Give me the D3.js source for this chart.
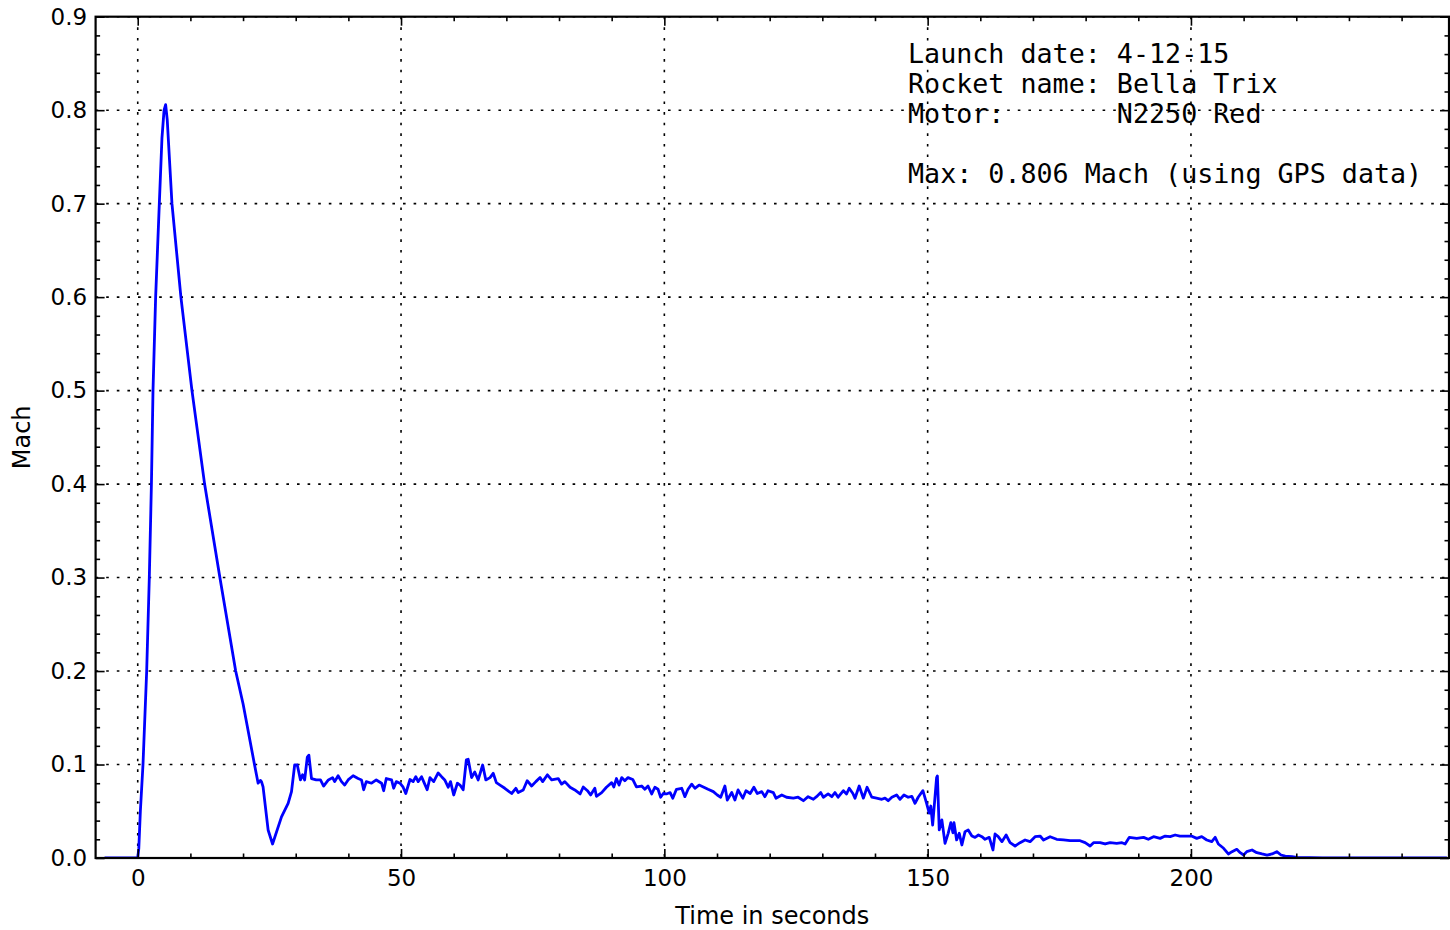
<!DOCTYPE html>
<html>
<head>
<meta charset="utf-8">
<script src="https://cdn.jsdelivr.net/npm/d3@7"></script>
<style>
  html, body { margin: 0; padding: 0; background: #ffffff; }
  svg { display: block; }
</style>
</head>
<body>
<svg id="chart" width="1450" height="930"></svg>
<script>
// ---------------- data ----------------
const timeSeconds = [
  -6.3, -4, -2, 0, 0.2, 0.5, 1.0, 1.7, 2.2, 2.6, 2.9, 3.4, 4.1, 4.6, 5.0, 5.3, 5.6,
  6.5, 8.2, 10.3, 12.7, 15.6, 18.6, 20.0, 22.0, 22.86, 23.3, 23.5, 23.8, 24.76, 25.6,
  27.3, 28.56, 29.2, 29.8, 30.3, 30.9, 31.3, 31.7, 32.2, 32.5, 33.0, 33.9, 34.7, 35.3,
  36.2, 37.0, 37.4, 38.05, 38.7, 39.3, 39.95, 40.9, 41.85, 42.5, 42.9, 43.4, 44.4,
  45.3, 46.3, 46.7, 47.2, 48.2, 48.6, 49.1, 49.8, 50.4, 50.9, 51.7, 52.3, 52.8,
  53.25, 53.9, 54.3, 54.96, 55.5, 56.2, 57.05, 57.7, 58.3, 58.95, 59.4, 60.0, 60.7,
  61.2, 61.8, 62.4, 62.75, 63.4, 64.0, 64.65, 65.5, 66.1, 66.9, 67.5, 68.1, 68.8,
  69.7, 71.0, 71.8, 72.25, 73.2, 73.95, 74.8, 75.6, 76.4, 76.9, 77.8, 78.6, 79.85,
  80.5, 81.1, 82.1, 83.0, 84.0, 84.6, 85.4, 86.0, 86.8, 87.1, 88.1, 89.0, 90.0,
  90.4, 90.9, 91.4, 91.9, 92.5, 93.1, 94.0, 94.7, 95.7, 96.3, 96.9, 97.6, 98.2,
  98.8, 99.3, 99.8, 100.4, 101.1, 101.6, 102.3, 103.3, 103.9, 104.5, 105.2, 105.8,
  106.6, 107.5, 108.3, 109.3, 110.05, 110.7, 111.5, 111.95, 112.8, 113.4, 114.0,
  114.9, 115.5, 116.3, 117.0, 117.65, 118.5, 119.1, 119.7, 120.7, 121.2, 122.3,
  123.2, 124.5, 125.4, 126.4, 127.3, 128.3, 128.9, 129.7, 130.2, 131.1, 131.8,
  132.4, 133.0, 134.0, 134.6, 135.1, 135.8, 136.2, 137.0, 137.8, 138.5, 139.4,
  140.3, 141.3, 141.9, 142.5, 143.2, 144.1, 144.75, 145.5, 146.3, 147.0, 147.6,
  148.2, 149.1, 149.8, 150.3, 150.6, 150.95, 151.7, 151.85, 152.2, 152.7, 153.3,
  153.9, 154.4, 154.8, 155.0, 155.5, 156.0, 156.5, 157.1, 157.7, 158.4, 159.0,
  159.65, 160.3, 160.9, 161.7, 162.4, 162.8, 163.4, 164.1, 164.9, 165.65, 166.6,
  167.55, 168.5, 169.45, 170.4, 171.35, 172.0, 173.25, 174.5, 175.8, 177.05, 178.95,
  179.9, 180.85, 181.5, 182.75, 183.7, 184.65, 185.9, 186.9, 187.5, 188.3, 189.7,
  191.0, 191.9, 192.9, 194.15, 195.1, 196.05, 197.0, 197.9, 199.2, 200.1, 201.1,
  202.05, 203.0, 203.95, 204.6, 205.2, 206.2, 207.1, 207.8, 208.7, 209.35, 210.0,
  210.6, 211.6, 212.5, 213.5, 214.45, 215.4, 216.3, 217.1, 217.9, 219.2, 220.1,
  225, 235, 248.6
];
const machValues = [
  0, 0, 0, 0, 0.01, 0.05, 0.10, 0.20, 0.30, 0.40, 0.50, 0.60, 0.70, 0.77, 0.80, 0.806, 0.79,
  0.70, 0.60, 0.50, 0.40, 0.30, 0.20, 0.165, 0.105, 0.080, 0.083, 0.0817, 0.076, 0.030, 0.015,
  0.044, 0.0585, 0.071, 0.0995, 0.0995, 0.0835, 0.089, 0.0835, 0.108, 0.110, 0.085, 0.0835, 0.0835, 0.077,
  0.0835, 0.086, 0.0817, 0.088, 0.0817, 0.078, 0.0835, 0.088, 0.085, 0.0835, 0.073, 0.0817, 0.080,
  0.0835, 0.080, 0.072, 0.085, 0.0835, 0.0746, 0.0817, 0.080, 0.0757, 0.069, 0.084, 0.0817, 0.087,
  0.0817, 0.087, 0.0817, 0.073, 0.086, 0.0817, 0.091, 0.087, 0.0835, 0.0757, 0.0817, 0.0674, 0.080,
  0.078, 0.073, 0.105, 0.1056, 0.086, 0.092, 0.0835, 0.0995, 0.0835, 0.086, 0.0906, 0.0806, 0.078,
  0.0746, 0.069, 0.0746, 0.070, 0.0728, 0.0827, 0.077, 0.0817, 0.086, 0.0817, 0.089, 0.0835, 0.085,
  0.079, 0.0817, 0.0757, 0.0728, 0.0685, 0.076, 0.072, 0.0674, 0.0746, 0.066, 0.070, 0.0757, 0.0806,
  0.076, 0.085, 0.078, 0.086, 0.0827, 0.086, 0.084, 0.076, 0.077, 0.0735, 0.077, 0.0685, 0.0757,
  0.0735, 0.065, 0.069, 0.0685, 0.070, 0.064, 0.0735, 0.0746, 0.0656, 0.0735, 0.079, 0.0746,
  0.078, 0.0757, 0.0735, 0.071, 0.0674, 0.065, 0.077, 0.062, 0.070, 0.062, 0.0728,
  0.064, 0.072, 0.069, 0.0757, 0.069, 0.071, 0.0656, 0.072, 0.070, 0.064, 0.0674,
  0.065, 0.064, 0.065, 0.0613, 0.0656, 0.0628, 0.0656, 0.070, 0.065, 0.0685, 0.0656,
  0.070, 0.065, 0.072, 0.0685, 0.0746, 0.069, 0.064, 0.077, 0.064, 0.0757, 0.065,
  0.064, 0.0628, 0.064, 0.0613, 0.065, 0.0674, 0.0628, 0.0674, 0.065, 0.066, 0.0585,
  0.065, 0.072, 0.0585, 0.048, 0.0556, 0.0353, 0.086, 0.0878, 0.030, 0.0407, 0.0157,
  0.0264, 0.0378, 0.027, 0.0378, 0.0193, 0.0264, 0.0139, 0.0282, 0.030, 0.0235, 0.0221,
  0.0246, 0.0228, 0.020, 0.0221, 0.0086, 0.0257, 0.0228, 0.0175, 0.0246, 0.0164, 0.0128,
  0.0164, 0.0193, 0.0175, 0.0228, 0.0235, 0.0193, 0.0228, 0.020, 0.0193, 0.0185, 0.0185,
  0.0164, 0.0128, 0.0164, 0.0164, 0.015, 0.0164, 0.0157, 0.0164, 0.015, 0.0221, 0.021,
  0.0221, 0.020, 0.0228, 0.021, 0.0235, 0.0228, 0.0246, 0.0235, 0.0235, 0.0235, 0.021,
  0.0228, 0.0193, 0.0175, 0.0221, 0.015, 0.0104, 0.0043, 0.0068, 0.0093, 0.0057, 0.0032,
  0.0068, 0.0086, 0.0057, 0.0043, 0.0032, 0.0043, 0.0068, 0.0032, 0.002, 0.0014, 0.0007,
  0, 0, 0
];
const xMajorTicks = [0, 50, 100, 150, 200];
const xMinorTicks = [10, 20, 30, 40, 60, 70, 80, 90, 110, 120, 130, 140, 160, 170, 180, 190, 210, 220, 230, 240];
const yMajorTicks = [0.0, 0.1, 0.2, 0.3, 0.4, 0.5, 0.6, 0.7, 0.8, 0.9];
const yMinorTicks = d3.range(0, 0.9001, 0.02).filter(v => Math.abs(v * 10 - Math.round(v * 10)) > 1e-6);
const infoLines = [
  "Launch date: 4-12-15",
  "Rocket name: Bella Trix",
  "Motor:       N2250 Red",
  "",
  "Max: 0.806 Mach (using GPS data)"
];
const xLabel = "Time in seconds";
const yLabel = "Mach";

// ---------------- layout ----------------
const svg = d3.select("#chart");
const margin = { left: 95.6, right: 1449, top: 16.7, bottom: 858 };
const W = margin.right - margin.left, H = margin.bottom - margin.top;

const x = d3.scaleLinear().domain([-8, 249]).range([margin.left, margin.right]);
const y = d3.scaleLinear().domain([0, 0.9]).range([margin.bottom, margin.top]);

const data = timeSeconds.map((t, i) => ({ t, v: machValues[i] }));

// grid
const grid = svg.append("g").attr("class", "grid")
  .attr("stroke", "#000").attr("stroke-width", 1.6).attr("stroke-dasharray", "2.6,8");
grid.selectAll("line.gx").data(xMajorTicks).join("line").attr("class", "gx")
  .attr("x1", d => x(d)).attr("x2", d => x(d)).attr("y1", margin.top).attr("y2", margin.bottom);
grid.selectAll("line.gy").data(yMajorTicks).join("line").attr("class", "gy")
  .attr("x1", margin.left).attr("x2", margin.right).attr("y1", d => y(d)).attr("y2", d => y(d));

// info text
const info = svg.append("g").attr("font-family", "'DejaVu Sans Mono', monospace").attr("font-size", 26.7);
info.selectAll("text").data(infoLines).join("text")
  .attr("x", 908).attr("y", (d, i) => 63 + i * 30)
  .attr("xml:space", "preserve").style("white-space", "pre")
  .text(d => d);

// data line
svg.append("clipPath").attr("id", "clip").append("rect")
  .attr("x", margin.left).attr("y", margin.top).attr("width", W).attr("height", H);
svg.append("path").datum(data)
  .attr("clip-path", "url(#clip)")
  .attr("fill", "none").attr("stroke", "#0000ff").attr("stroke-width", 2.8)
  .attr("stroke-linejoin", "round")
  .attr("d", d3.line().x(d => x(d.t)).y(d => y(d.v)));

// axes (ticks inward on all sides)
function styleAxis(g) { g.select(".domain").remove(); g.selectAll(".tick line").attr("stroke", "#000").attr("stroke-width", 1.6); }
const majorLen = 9, minorLen = 4.5;

svg.append("g").attr("transform", `translate(0,${margin.bottom})`)
  .call(d3.axisBottom(x).tickValues(xMajorTicks).tickSizeInner(-majorLen).tickSizeOuter(0).tickPadding(12).tickFormat(d3.format("d")))
  .call(styleAxis).call(g => g.selectAll("text").attr("font-family", "DejaVu Sans").attr("font-size", 23).attr("fill", "#000"));
svg.append("g").attr("transform", `translate(0,${margin.bottom})`)
  .call(d3.axisBottom(x).tickValues(xMinorTicks).tickSizeInner(-minorLen).tickSizeOuter(0).tickFormat(""))
  .call(styleAxis);
svg.append("g").attr("transform", `translate(0,${margin.top})`)
  .call(d3.axisTop(x).tickValues(xMajorTicks).tickSizeInner(-majorLen).tickSizeOuter(0).tickFormat(""))
  .call(styleAxis);
svg.append("g").attr("transform", `translate(0,${margin.top})`)
  .call(d3.axisTop(x).tickValues(xMinorTicks).tickSizeInner(-minorLen).tickSizeOuter(0).tickFormat(""))
  .call(styleAxis);

svg.append("g").attr("transform", `translate(${margin.left},0)`)
  .call(d3.axisLeft(y).tickValues(yMajorTicks).tickSizeInner(-majorLen).tickSizeOuter(0).tickPadding(8.5).tickFormat(d3.format(".1f")))
  .call(styleAxis).call(g => g.selectAll("text").attr("font-family", "DejaVu Sans").attr("font-size", 23).attr("fill", "#000"));
svg.append("g").attr("transform", `translate(${margin.left},0)`)
  .call(d3.axisLeft(y).tickValues(yMinorTicks).tickSizeInner(-minorLen).tickSizeOuter(0).tickFormat(""))
  .call(styleAxis);
svg.append("g").attr("transform", `translate(${margin.right},0)`)
  .call(d3.axisRight(y).tickValues(yMajorTicks).tickSizeInner(-majorLen).tickSizeOuter(0).tickFormat(""))
  .call(styleAxis);
svg.append("g").attr("transform", `translate(${margin.right},0)`)
  .call(d3.axisRight(y).tickValues(yMinorTicks).tickSizeInner(-minorLen).tickSizeOuter(0).tickFormat(""))
  .call(styleAxis);

// frame
svg.append("rect").attr("x", margin.left).attr("y", margin.top).attr("width", W).attr("height", H)
  .attr("fill", "none").attr("stroke", "#000").attr("stroke-width", 2.2);

// axis labels
svg.append("text").attr("x", (margin.left + margin.right) / 2).attr("y", 924)
  .attr("text-anchor", "middle").attr("font-family", "DejaVu Sans").attr("font-size", 24).text(xLabel);
svg.append("text").attr("transform", `translate(30,${(margin.top + margin.bottom) / 2}) rotate(-90)`)
  .attr("text-anchor", "middle").attr("font-family", "DejaVu Sans").attr("font-size", 24).text(yLabel);
</script>
</body>
</html>
